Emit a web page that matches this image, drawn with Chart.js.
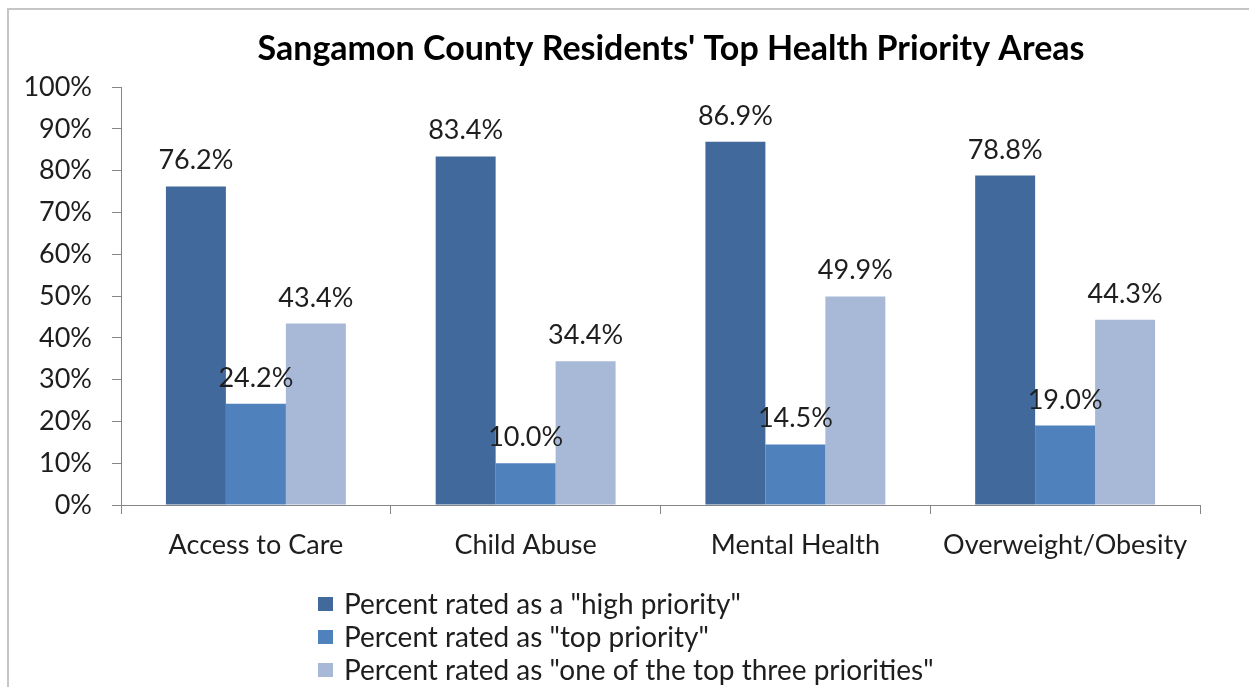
<!DOCTYPE html>
<html>
<head>
<meta charset="utf-8">
<title>Sangamon County Residents' Top Health Priority Areas</title>
<script src="https://cdn.jsdelivr.net/npm/chart.js@4/dist/chart.umd.min.js"></script>
<style>
  html, body { margin: 0; padding: 0; background: #fff; overflow: hidden; }
  #wrap { position: relative; width: 1249px; height: 687px; }
  #frame {
    position: absolute; left: 7px; top: 8px; width: 1400px; height: 800px;
    border-top: 2px solid #c6c6c6; border-left: 2px solid #c6c6c6;
    pointer-events: none;
  }
  canvas { position: absolute; left: 0; top: 0; }
</style>
</head>
<body>
<div id="wrap">
  <canvas id="chart" width="1249" height="687"></canvas>
  <div id="frame"></div>
</div>
<script>
const categories = ['Access to Care', 'Child Abuse', 'Mental Health', 'Overweight/Obesity'];
const highPriority = [76.2, 83.4, 86.9, 78.8];
const topPriority = [24.2, 10.0, 14.5, 19.0];
const topThree = [43.4, 34.4, 49.9, 44.3];
const seriesNames = ['Percent rated as a "high priority"', 'Percent rated as "top priority"', 'Percent rated as "one of the top three priorities"'];
const seriesColors = ['#41699b', '#4f81bd', '#a8b9d8'];
const chartTitle = "Sangamon County Residents' Top Health Priority Areas";

const FONT = 'Lato, "Open Sans", sans-serif';
const TEXT = '#1e1e1e';
const AXIS = '#868686';

// title centred a little right of the canvas middle
const topTitle = {
  id: 'topTitle',
  afterDraw(chart) {
    const ctx = chart.ctx;
    ctx.save();
    ctx.font = 'bold 34px ' + FONT;
    ctx.fillStyle = '#000';
    ctx.textAlign = 'center';
    ctx.textBaseline = 'middle';
    ctx.fillText(chartTitle, 671, 49);
    ctx.restore();
  }
};

// value text above each bar
const barValues = {
  id: 'barValues',
  afterDatasetsDraw(chart) {
    const ctx = chart.ctx;
    ctx.save();
    ctx.font = '27px ' + FONT;
    ctx.fillStyle = TEXT;
    ctx.textAlign = 'center';
    ctx.textBaseline = 'alphabetic';
    chart.data.datasets.forEach((ds, i) => {
      chart.getDatasetMeta(i).data.forEach((bar, j) => {
        ctx.fillText(ds.data[j].toFixed(1) + '%', bar.x, bar.y - 17);
      });
    });
    ctx.restore();
  }
};

// stacked legend under the axis labels
const stackedLegend = {
  id: 'stackedLegend',
  afterDraw(chart) {
    const ctx = chart.ctx;
    const rows = [604, 637, 670];
    ctx.save();
    ctx.font = '28px ' + FONT;
    ctx.textAlign = 'left';
    ctx.textBaseline = 'middle';
    chart.data.datasets.forEach((ds, i) => {
      ctx.fillStyle = ds.backgroundColor;
      ctx.fillRect(318, rows[i] - 7, 15, 14);
      ctx.fillStyle = TEXT;
      ctx.fillText(ds.label, 344, rows[i] + 1);
    });
    ctx.restore();
  }
};

const ctx = document.getElementById('chart').getContext('2d');

new Chart(ctx, {
  type: 'bar',
  data: {
    labels: categories,
    datasets: [highPriority, topPriority, topThree].map((values, i) => ({
      label: seriesNames[i],
      data: values,
      backgroundColor: seriesColors[i],
      borderWidth: 0,
      categoryPercentage: 0.667,
      barPercentage: 1
    }))
  },
  options: {
    responsive: false,
    animation: false,
    layout: { padding: { top: 87, right: 49, bottom: 0, left: 0 } },
    plugins: {
      legend: { display: false },
      tooltip: { enabled: false },
      title: { display: false }
    },
    scales: {
      x: {
        afterFit(scale) { scale.height = 182; },
        grid: { display: true, drawOnChartArea: false, offset: true, tickLength: 9, color: AXIS },
        border: { color: AXIS, width: 1 },
        ticks: { color: TEXT, padding: 15, font: { family: FONT, size: 27 } }
      },
      y: {
        min: 0,
        max: 100,
        afterFit(scale) { scale.width = 121; },
        grid: { display: true, drawOnChartArea: false, tickLength: 9, color: AXIS },
        border: { color: AXIS, width: 1 },
        ticks: {
          stepSize: 10,
          color: TEXT,
          padding: 20,
          font: { family: FONT, size: 27 },
          callback: v => v + '%'
        }
      }
    }
  },
  plugins: [barValues, stackedLegend, topTitle]
});
</script>
</body>
</html>
